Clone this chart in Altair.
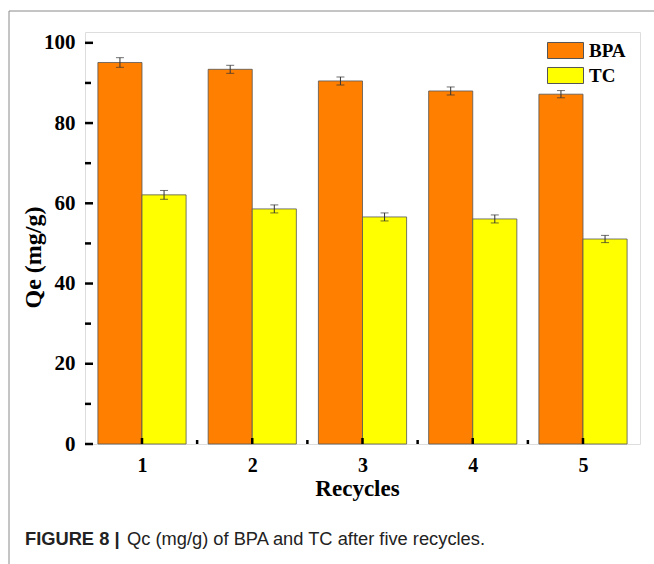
import altair as alt
import pandas as pd

recycles = [1, 2, 3, 4, 5]
bpa = [95.1, 93.4, 90.5, 88.0, 87.2]
bpa_err = [1.2, 1.0, 1.0, 1.0, 0.9]
tc = [62.1, 58.6, 56.6, 56.1, 51.1]
tc_err = [1.1, 1.0, 1.0, 1.0, 0.9]
series = ["BPA", "TC"]
colors = ["#FF7F00", "#FFFF00"]
y_major = [0, 20, 40, 60, 80, 100]
y_minor = [10, 30, 50, 70, 90]
x_minor = [1.5, 2.5, 3.5, 4.5]

rows = []
for i, r in enumerate(recycles):
    rows.append({"recycle": r, "series": "BPA", "qe": bpa[i], "err": bpa_err[i], "x0": r - 0.4, "x1": r})
    rows.append({"recycle": r, "series": "TC", "qe": tc[i], "err": tc_err[i], "x0": r, "x1": r + 0.4})
df = pd.DataFrame(rows)
df["lo"] = df["qe"] - df["err"]
df["hi"] = df["qe"] + df["err"]
df["xc"] = (df["x0"] + df["x1"]) / 2

W, H = 555, 412
SERIF = "Liberation Serif"

xscale = alt.Scale(domain=[0.483, 5.517], nice=False, zero=False)
yscale = alt.Scale(domain=[0, 102.7], nice=False)

bars = alt.Chart(df).mark_bar(stroke="#555555", strokeWidth=0.8).encode(
    x=alt.X("x0:Q", scale=xscale,
            axis=alt.Axis(values=recycles, format="d", title="Recycles", grid=False,
                          domain=False, ticks=False, tickSize=0, labelPadding=11,
                          labelFont=SERIF, labelFontWeight="bold", labelFontSize=20,
                          labelColor="black", titleFont=SERIF, titleFontWeight="bold",
                          titleFontSize=23, titleColor="black", titleX=272, titleY=51,
                          titleBaseline="alphabetic")),
    x2="x1:Q",
    y=alt.Y("qe:Q", scale=yscale,
            axis=alt.Axis(values=y_major, title="Qe (mg/g)", grid=False, domain=False,
                          ticks=False, tickSize=0, labelPadding=10,
                          labelFont=SERIF, labelFontWeight="bold", labelFontSize=21,
                          labelColor="black", titleFont=SERIF, titleFontWeight="bold",
                          titleFontSize=24, titleColor="black", titleX=-52, titleY=225,
                          titleBaseline="middle", titleAngle=270)),
    y2=alt.datum(0),
    fill=alt.Fill("series:N", scale=alt.Scale(domain=series, range=colors),
                  legend=alt.Legend(title=None, orient="none", legendX=468, legendY=6,
                                    symbolType="M-1.5,-0.667H1.5V0.667H-1.5Z", symbolSize=576,
                                    symbolStrokeColor="#555555", symbolStrokeWidth=1,
                                    labelFont=SERIF, labelFontWeight="bold", labelFontSize=19,
                                    labelColor="black", labelOffset=11, rowPadding=2,
                                    padding=0)),
)

err_rule = alt.Chart(df).mark_rule(color="#333333", strokeWidth=1).encode(
    x=alt.X("xc:Q", scale=xscale), y=alt.Y("lo:Q", scale=yscale), y2="hi:Q")
cap_hi = alt.Chart(df).mark_tick(color="#333333", thickness=1, size=8, orient="horizontal").encode(
    x=alt.X("xc:Q", scale=xscale), y=alt.Y("hi:Q", scale=yscale))
cap_lo = alt.Chart(df).mark_tick(color="#333333", thickness=1, size=8, orient="horizontal").encode(
    x=alt.X("xc:Q", scale=xscale), y=alt.Y("lo:Q", scale=yscale))

ytick_major = alt.Chart(pd.DataFrame({"v": y_major})).mark_rule(color="black", strokeWidth=2.5).encode(
    y=alt.Y("v:Q", scale=yscale), x=alt.value(0), x2=alt.value(8))
ytick_minor = alt.Chart(pd.DataFrame({"v": y_minor})).mark_rule(color="black", strokeWidth=2.5).encode(
    y=alt.Y("v:Q", scale=yscale), x=alt.value(0), x2=alt.value(6))
xtick_major = alt.Chart(pd.DataFrame({"v": recycles})).mark_rule(color="black", strokeWidth=2.5).encode(
    x=alt.X("v:Q", scale=xscale), y=alt.value(H), y2=alt.value(H - 6))
xtick_minor = alt.Chart(pd.DataFrame({"v": x_minor})).mark_rule(color="black", strokeWidth=2.5).encode(
    x=alt.X("v:Q", scale=xscale), y=alt.value(H), y2=alt.value(H - 4))

frame_top = alt.Chart(pd.DataFrame({"a": [0]})).mark_rule(color="#8a8a8a", strokeWidth=1).encode(
    x=alt.value(-76), x2=alt.value(580), y=alt.value(-21))
frame_left = alt.Chart(pd.DataFrame({"a": [0]})).mark_rule(color="#8a8a8a", strokeWidth=1).encode(
    x=alt.value(-76), y=alt.value(-21), y2=alt.value(540))

cap_bold = alt.Chart(pd.DataFrame({"t": ["FIGURE 8 |"]})).mark_text(
    font="Liberation Sans", fontWeight="bold", fontSize=18.3, align="left", baseline="alphabetic",
    color="#222222").encode(text="t:N", x=alt.value(-60), y=alt.value(513))
cap_reg = alt.Chart(pd.DataFrame({"t": ["Qc (mg/g) of BPA and TC after five recycles."]})).mark_text(
    font="Liberation Sans", fontSize=18.3, align="left", baseline="alphabetic",
    color="#222222").encode(text="t:N", x=alt.value(42), y=alt.value(513))

chart = alt.layer(
    bars, err_rule, cap_hi, cap_lo, ytick_major, ytick_minor, xtick_major, xtick_minor,
    frame_top, frame_left, cap_bold, cap_reg
).properties(
    width=W, height=H,
    autosize=alt.AutoSizeParams(type="none"),
    padding={"left": 85, "top": 32, "right": 14, "bottom": 120},
).configure_view(
    stroke="black", strokeWidth=3
).configure(background="white")

chart.save("out.html", embed_options={"renderer": "svg", "actions": False})
